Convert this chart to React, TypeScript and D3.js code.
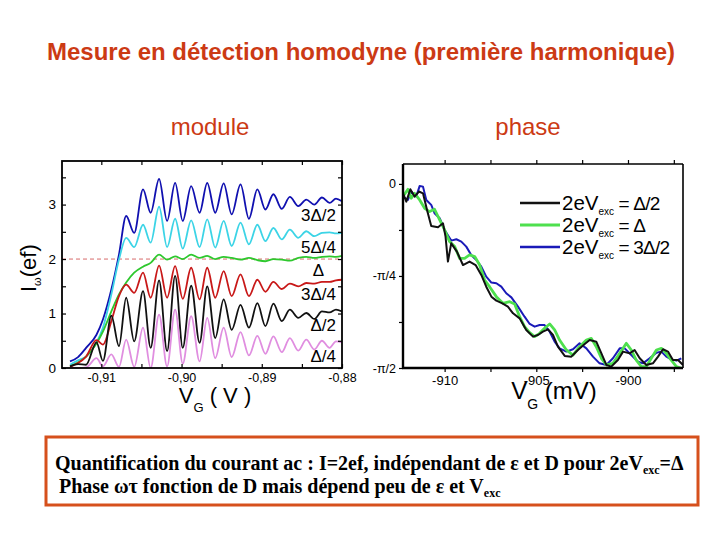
import * as d3 from "d3";
import { useEffect, useRef } from "react";

// gate voltage grid (mV) shared by the six "module" curves
const vgModule = [
  -913.9, -912.9, -911.9, -910.6, -909.8, -908.75, -907.8, -906.9, -905.9, -904.8, -903.85, -902.8,
  -901.8, -900.8, -899.85, -898.8, -897.75, -896.8, -895.8, -894.75, -893.75, -892.65, -891.6,
  -890.55, -889.55, -888.55, -887.5, -886.5, -885.45, -884.45, -883.45, -882.5, -881.55, -880.75, -880.0,
];
// I_w / (ef) for each excitation 2eVexc
const mod3D2 = [
  0.12, 0.2, 0.37, 0.61, 0.89, 1.44, 2.08, 2.79, 2.48, 3.28, 2.85, 3.47, 2.7, 3.4, 2.7, 3.34, 2.85, 3.4,
  2.85, 3.39, 2.82, 3.37, 2.74, 3.28, 2.91, 3.19, 2.92, 3.14, 2.97, 3.09, 3.0, 3.13, 3.03, 3.11, 3.06,
];
const mod5D4 = [
  0.06, 0.14, 0.21, 0.47, 0.74, 1.35, 1.99, 2.39, 2.22, 2.63, 2.3, 2.96, 2.22, 2.74, 2.19, 2.71, 2.22,
  2.73, 2.21, 2.7, 2.24, 2.67, 2.27, 2.63, 2.33, 2.57, 2.36, 2.54, 2.39, 2.51, 2.42, 2.48, 2.49, 2.47, 2.48,
];
const modD = [
  0.03, 0.1, 0.21, 0.45, 0.67, 1.04, 1.35, 1.57, 1.75, 1.86, 1.93, 2.08, 1.99, 2.05, 2.0, 2.08, 2.02,
  2.06, 2.0, 2.04, 2.02, 1.99, 2.02, 1.98, 1.96, 2.0, 1.99, 1.97, 2.02, 2.04, 2.02, 2.04, 2.05, 2.04, 2.06,
];
const mod3D4 = [
  0.02, 0.09, 0.21, 0.51, 0.43, 0.86, 1.32, 1.53, 1.38, 1.75, 1.29, 1.88, 1.29, 1.87, 1.27, 1.84, 1.26,
  1.84, 1.29, 1.78, 1.32, 1.72, 1.32, 1.62, 1.4, 1.58, 1.45, 1.55, 1.5, 1.56, 1.55, 1.58, 1.58, 1.61, 1.62,
];
const modD2 = [
  0.03, 0.07, 0.06, 0.47, 0.13, 0.96, 0.4, 1.29, 0.49, 1.41, 0.37, 1.61, 0.31, 1.69, 0.37, 1.51, 0.46,
  1.5, 0.55, 1.26, 0.7, 1.16, 0.74, 1.19, 0.77, 1.18, 0.86, 1.07, 0.92, 1.01, 0.9, 1.04, 1.02, 1.07, 1.04,
];
const modD4 = [
  0.0, 0.0, 0.01, 0.18, 0.03, 0.25, 0.02, 0.52, 0.02, 0.74, 0.0, 0.98, 0.03, 1.07, 0.08, 0.95, 0.12,
  0.92, 0.18, 0.74, 0.2, 0.66, 0.23, 0.59, 0.26, 0.58, 0.29, 0.55, 0.32, 0.52, 0.34, 0.5, 0.37, 0.49, 0.47,
];
const moduleLabels = ["3Δ/2", "5Δ/4", "Δ", "3Δ/4", "Δ/2", "Δ/4"];
const moduleColors = ["#1010b0", "#3cd4e6", "#2ec82e", "#c81818", "#111111", "#e08ee0"];

// phase (rad) vs gate voltage (mV)
const phaseHalfX = [
  -912.27, -912.09, -911.87, -911.64, -911.4, -911.18, -910.96, -910.73, -910.36, -910.09, -909.95,
  -909.82, -909.64, -909.33, -909.0, -908.64, -908.31, -908.0, -907.73, -907.45, -907.18, -906.85,
  -906.55, -906.27, -905.91, -905.55, -905.18, -904.91, -904.64, -904.36, -904.09, -903.82, -903.45,
  -903.09, -902.73, -902.36, -902.09, -901.73, -901.45, -901.18, -900.91, -900.55, -900.27, -899.91,
  -899.64, -899.36, -899.0, -898.64, -898.36, -898.09, -897.82, -897.55, -897.27, -897.0,
];
const phaseHalf = [
  -0.08, -0.151, -0.046, -0.108, -0.065, -0.08, -0.222, -0.359, -0.37, -0.336, -0.45, -0.663, -0.507,
  -0.578, -0.692, -0.663, -0.692, -0.777, -0.877, -0.962, -0.996, -1.019, -1.047, -1.104, -1.147,
  -1.246, -1.303, -1.289, -1.261, -1.241, -1.289, -1.389, -1.468, -1.474, -1.417, -1.366, -1.332,
  -1.346, -1.446, -1.545, -1.559, -1.503, -1.431, -1.446, -1.417, -1.488, -1.545, -1.531, -1.474,
  -1.411, -1.431, -1.503, -1.503, -1.545,
];
const phaseOneX = [
  -912.27, -912.0, -911.82, -911.64, -911.36, -911.09, -910.82, -910.55, -910.27, -910.0, -909.73,
  -909.45, -909.18, -908.91, -908.64, -908.36, -908.09, -907.82, -907.55, -907.18, -906.82, -906.45,
  -906.18, -905.91, -905.64, -905.36, -905.09, -904.82, -904.55, -904.27, -904.0, -903.73, -903.36,
  -903.0, -902.64, -902.27, -902.0, -901.73, -901.45, -901.18, -900.82, -900.45, -900.09, -899.82,
  -899.55, -899.27, -899.0, -898.73, -898.45, -898.18, -897.91, -897.64, -897.36, -897.09,
];
const phaseOne = [
  -0.108, -0.046, -0.122, -0.08, -0.137, -0.208, -0.236, -0.216, -0.307, -0.393, -0.492, -0.535,
  -0.635, -0.635, -0.606, -0.62, -0.692, -0.82, -0.877, -0.962, -1.019, -1.005, -1.024, -1.133,
  -1.218, -1.269, -1.303, -1.275, -1.232, -1.195, -1.246, -1.332, -1.417, -1.46, -1.389, -1.332,
  -1.318, -1.389, -1.488, -1.545, -1.531, -1.446, -1.36, -1.417, -1.503, -1.559, -1.559, -1.488,
  -1.417, -1.403, -1.446, -1.503, -1.559, -1.574,
];
const phaseThreeHalfX = [
  -912.27, -912.0, -911.82, -911.55, -911.36, -911.18, -911.0, -910.73, -910.55, -910.27, -910.0,
  -909.64, -909.36, -909.09, -908.82, -908.55, -908.27, -908.0, -907.73, -907.45, -907.18, -906.91,
  -906.64, -906.36, -906.0, -905.64, -905.36, -905.09, -904.82, -904.55, -904.27, -904.0, -903.73,
  -903.36, -903.0, -902.64, -902.27, -901.91, -901.55, -901.18, -900.82, -900.45, -900.18, -899.82,
  -899.45, -899.18, -898.82, -898.45, -898.18, -897.91, -897.64, -897.36, -897.09,
];
const phaseThreeHalf = [
  -0.108, -0.137, -0.065, -0.108, -0.017, -0.023, -0.137, -0.179, -0.25, -0.293, -0.393, -0.484,
  -0.472, -0.492, -0.535, -0.606, -0.649, -0.706, -0.791, -0.842, -0.848, -0.877, -0.933, -0.968,
  -1.047, -1.133, -1.195, -1.218, -1.204, -1.204, -1.261, -1.346, -1.403, -1.431, -1.411, -1.36,
  -1.403, -1.474, -1.531, -1.545, -1.488, -1.403, -1.403, -1.46, -1.517, -1.531, -1.488, -1.44,
  -1.431, -1.474, -1.497, -1.508, -1.488,
];
const legendLabels = ["Δ/2", "Δ", "3Δ/2"];
const phaseColors = ["#111111", "#4ee04e", "#1a1ab8"];
const phaseTickLabels = ["0", "-π/4", "-π/2"];

const SANS = "'Liberation Sans', Arial, sans-serif";
const SERIF = "'Liberation Serif', 'Times New Roman', serif";
const RED = "#cc3a14";

export default function App() {
  const svgRef = useRef<SVGSVGElement | null>(null);

  useEffect(() => {
    if (!svgRef.current) return;
    const svg = d3.select(svgRef.current);
    svg.selectAll("*").remove();

    // headings
    svg.append("text").attr("x", 361).attr("y", 60).attr("text-anchor", "middle")
      .attr("font-family", SANS).attr("font-weight", "bold").attr("font-size", 24)
      .attr("fill", RED).text("Mesure en détection homodyne (première harmonique)");
    svg.append("text").attr("x", 210).attr("y", 135).attr("text-anchor", "middle")
      .attr("font-family", SANS).attr("font-size", 24).attr("fill", RED).text("module");
    svg.append("text").attr("x", 528).attr("y", 135).attr("text-anchor", "middle")
      .attr("font-family", SANS).attr("font-size", 24).attr("fill", RED).text("phase");

    // ---------- module panel ----------
    const xM = d3.scaleLinear().domain([-914.9, -880]).range([62, 342]);
    const yM = d3.scaleLinear().domain([0, 3.8]).range([368, 161]);
    const gM = svg.append("g");

    svg.append("defs").append("clipPath").attr("id", "clipM").append("rect")
      .attr("x", 62).attr("y", 161).attr("width", 280).attr("height", 207);

    gM.append("line").attr("x1", xM.range()[0]).attr("x2", xM.range()[1])
      .attr("y1", yM(2)).attr("y2", yM(2)).attr("stroke", "#d86a6a")
      .attr("stroke-width", 1).attr("stroke-dasharray", "4,3");

    const series = [mod3D2, mod5D4, modD, mod3D4, modD2, modD4];
    const line = d3.line<number>().x((_, i) => xM(vgModule[i])).y((d) => yM(d)).curve(d3.curveMonotoneX);
    series.forEach((s, k) => {
      gM.append("path").datum(s).attr("clip-path", "url(#clipM)").attr("fill", "none")
        .attr("stroke", moduleColors[k]).attr("stroke-width", 1.8).attr("d", line);
    });

    // curve labels, sitting under each curve's end
    series.forEach((s, k) => {
      const isDelta = moduleLabels[k] === "Δ";
      gM.append("text").attr("x", xM(-880) - (isDelta ? 18 : 6)).attr("y", yM(s[s.length - 1]) + 20)
        .attr("text-anchor", "end").attr("font-family", SANS).attr("font-size", 17)
        .attr("fill", "#000").text(moduleLabels[k]);
    });

    const fmtV = (d: number) => (d / 1000).toFixed(2).replace(".", ",");
    const styleAxis = (g: any, size: number) => {
      g.select(".domain").remove();
      g.selectAll("line").attr("stroke", "#000").attr("stroke-width", 1.2);
      g.selectAll("text").attr("font-family", SANS).attr("font-size", size).attr("fill", "#000");
    };
    gM.append("g").attr("transform", `translate(0,368)`)
      .call(d3.axisBottom(xM).tickValues(d3.range(-910, -879, 5)).tickSize(-4).tickPadding(5)
        .tickFormat((d: any) => (d % 10 === 0 ? fmtV(d) : "")))
      .call((g: any) => styleAxis(g, 12.5));
    gM.append("g").attr("transform", `translate(0,161)`)
      .call(d3.axisTop(xM).tickValues(d3.range(-910, -879, 5)).tickSize(-4).tickFormat(() => ""))
      .call((g: any) => styleAxis(g, 12));
    gM.append("g").attr("transform", `translate(62,0)`)
      .call(d3.axisLeft(yM).tickValues(d3.range(0, 3.6, 0.5)).tickSize(-4).tickPadding(6)
        .tickFormat((d: any) => (Number.isInteger(d) ? String(d) : "")))
      .call((g: any) => styleAxis(g, 13.5));
    gM.append("g").attr("transform", `translate(342,0)`)
      .call(d3.axisRight(yM).tickValues(d3.range(0, 3.6, 0.5)).tickSize(-4).tickFormat(() => ""))
      .call((g: any) => styleAxis(g, 12));
    gM.append("rect").attr("x", 62).attr("y", 161).attr("width", 280).attr("height", 207)
      .attr("fill", "none").attr("stroke", "#000").attr("stroke-width", 1.8);

    // axis titles
    const ylab = gM.append("text").attr("transform", "translate(36,292) rotate(-90)")
      .attr("font-family", SANS).attr("font-size", 22).attr("fill", "#000");
    ylab.append("tspan").text("I");
    ylab.append("tspan").attr("font-size", 11).attr("dy", 5).text("ω");
    ylab.append("tspan").attr("dy", -5).text("(ef)");
    const xlabM = gM.append("text").attr("x", 215).attr("y", 403).attr("text-anchor", "middle")
      .attr("font-family", SANS).attr("font-size", 22).attr("fill", "#000");
    xlabM.append("tspan").text("V");
    xlabM.append("tspan").attr("font-size", 13).attr("dy", 9).text("G");
    xlabM.append("tspan").attr("dy", -9).text(" ( V )");

    // ---------- phase panel ----------
    const xP = d3.scaleLinear().domain([-912.27, -897]).range([403, 683]);
    const yP = d3.scaleLinear().domain([-Math.PI / 2, 0.17]).range([368, 164]);
    const gP = svg.append("g");
    svg.select("defs").append("clipPath").attr("id", "clipP").append("rect")
      .attr("x", 403).attr("y", 164).attr("width", 280).attr("height", 205);

    const phases = [
      [phaseHalfX, phaseHalf],
      [phaseOneX, phaseOne],
      [phaseThreeHalfX, phaseThreeHalf],
    ];
    [2, 1, 0].forEach((k) => {
      const [xs, ys] = phases[k];
      const pl = d3.line<number>().x((_, i) => xP(xs[i])).y((d) => yP(d));
      gP.append("path").datum(ys).attr("clip-path", "url(#clipP)").attr("fill", "none")
        .attr("stroke", phaseColors[k]).attr("stroke-width", k === 1 ? 2.8 : 2)
        .attr("stroke-linejoin", "round").attr("d", pl);
    });

    gP.append("g").attr("transform", `translate(0,368)`)
      .call(d3.axisBottom(xP).tickValues(d3.range(-910, -896, 2.5)).tickSize(4).tickPadding(4)
        .tickFormat((d: any) => (d % 5 === 0 ? String(d) : "")))
      .call((g: any) => styleAxis(g, 13));
    gP.append("g").attr("transform", `translate(0,164)`)
      .call(d3.axisTop(xP).tickValues(d3.range(-910, -896, 2.5)).tickSize(4).tickFormat(() => ""))
      .call((g: any) => styleAxis(g, 12));
    const phaseTicks = d3.range(0, 5).map((i) => (-i * Math.PI) / 8);
    gP.append("g").attr("transform", `translate(403,0)`)
      .call(d3.axisLeft(yP).tickValues(phaseTicks).tickSize(4).tickPadding(3)
        .tickFormat((_: any, i: number) => (i % 2 === 0 ? phaseTickLabels[i / 2] : "")))
      .call((g: any) => styleAxis(g, 12.5));
    gP.append("line").attr("x1", 403).attr("x2", 683).attr("y1", 164).attr("y2", 164)
      .attr("stroke", "#000").attr("stroke-width", 1.6);
    gP.append("line").attr("x1", 683).attr("x2", 683).attr("y1", 164).attr("y2", 368)
      .attr("stroke", "#000").attr("stroke-width", 1.6);
    gP.append("line").attr("x1", 403).attr("x2", 403).attr("y1", 164).attr("y2", 369)
      .attr("stroke", "#000").attr("stroke-width", 2.4);
    gP.append("line").attr("x1", 402).attr("x2", 683).attr("y1", 368).attr("y2", 368)
      .attr("stroke", "#000").attr("stroke-width", 2.4);

    // legend
    legendLabels.forEach((lab, k) => {
      const y = 203 + k * 22;
      gP.append("line").attr("x1", 520).attr("x2", 560).attr("y1", y).attr("y2", y)
        .attr("stroke", phaseColors[k]).attr("stroke-width", k === 1 ? 3 : 2.4);
      const t = gP.append("text").attr("x", 562).attr("y", y + 7).attr("font-family", SANS)
        .attr("font-size", 20.5).attr("fill", "#000");
      t.append("tspan").text("2eV");
      t.append("tspan").attr("font-size", 10).attr("dy", 5).text("exc");
      t.append("tspan").attr("dy", -5).attr("font-size", 19).attr("letter-spacing", -0.8)
        .text(` = ${lab}`);
    });

    const xlabP = gP.append("text").attr("x", 554).attr("y", 399).attr("text-anchor", "middle")
      .attr("font-family", SANS).attr("font-size", 24).attr("fill", "#000");
    xlabP.append("tspan").text("V");
    xlabP.append("tspan").attr("font-size", 14).attr("dy", 10).text("G");
    xlabP.append("tspan").attr("dy", -10).text(" (mV)");

    // ---------- note box ----------
    svg.append("rect").attr("x", 46).attr("y", 437).attr("width", 652).attr("height", 68)
      .attr("fill", "#fff").attr("stroke", "#d6501c").attr("stroke-width", 3);
    const l1 = svg.append("text").attr("x", 55).attr("y", 470).attr("font-family", SERIF)
      .attr("font-weight", "bold").attr("font-size", 20).attr("fill", "#000");
    l1.append("tspan").text("Quantification du courant ac : I=2ef, indépendant de ε et D pour 2eV");
    l1.append("tspan").attr("font-size", 12).attr("dy", 4).text("exc");
    l1.append("tspan").attr("dy", -4).text("=Δ");
    const l2 = svg.append("text").attr("x", 59).attr("y", 493).attr("font-family", SERIF)
      .attr("font-weight", "bold").attr("font-size", 20).attr("fill", "#000");
    l2.append("tspan").text("Phase  ωτ fonction de D mais dépend peu de ε et V");
    l2.append("tspan").attr("font-size", 12).attr("dy", 4).text("exc");
  }, []);

  return (
    <svg
      ref={svgRef}
      width={720}
      height={540}
      style={{ position: "absolute", left: 0, top: 0, background: "#fff" }}
    />
  );
}
